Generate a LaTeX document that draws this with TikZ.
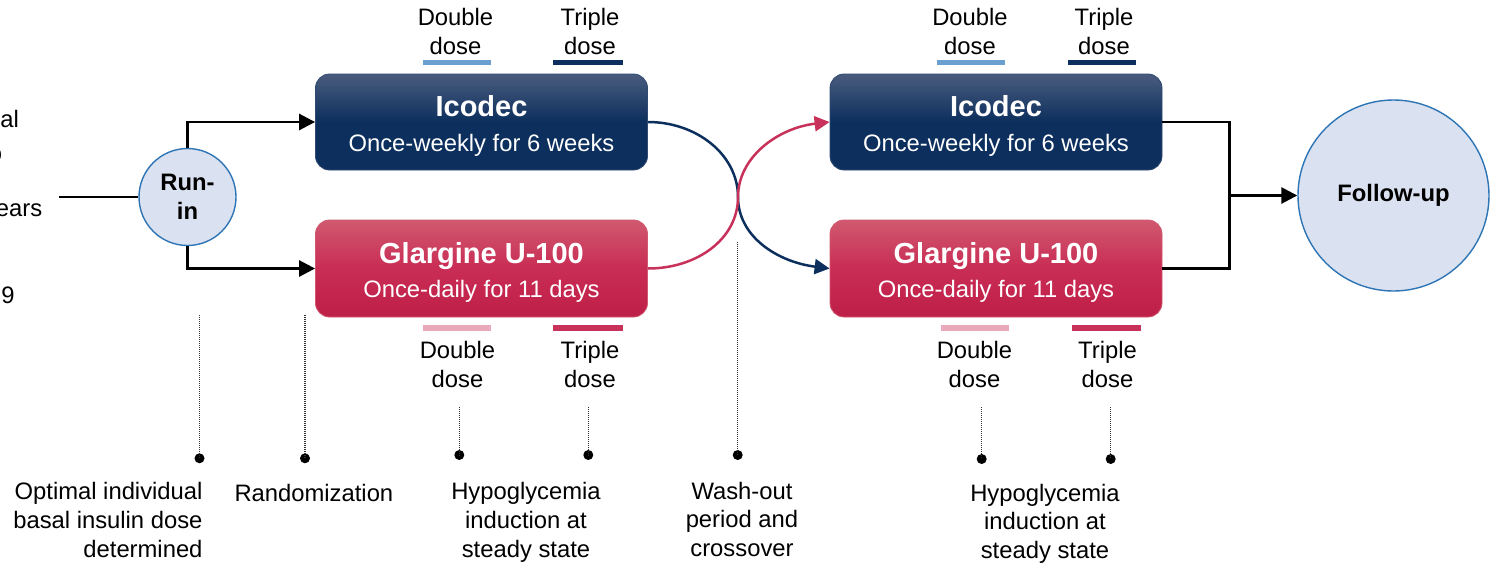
\documentclass[tikz,border=0pt]{standalone}
\usepackage{fontspec}
\setmainfont{Liberation Sans}
\usetikzlibrary{arrows.meta}
\definecolor{navy}{HTML}{0C2F5D}
\definecolor{navytop}{HTML}{4A5C7E}
\definecolor{crim}{HTML}{C8325A}
\definecolor{crimtop}{HTML}{D0596F}
\definecolor{crimmid}{HTML}{C92C54}
\definecolor{crimbot}{HTML}{BE1F48}
\definecolor{lblue}{HTML}{6A9FCF}
\definecolor{lpink}{HTML}{E8AABA}
\definecolor{circfill}{HTML}{DAE1F0}
\definecolor{circline}{HTML}{2E75B6}
\definecolor{dotcol}{HTML}{333333}
\begin{document}
\begin{tikzpicture}[x=0.5pt,y=-0.5pt,
  txt/.style={font=\fontsize{11.9}{14.3}\selectfont, inner sep=0pt, outer sep=0pt},
  ttl/.style={font=\fontsize{14.5}{17}\selectfont\bfseries, text=white, inner sep=0pt, anchor=base},
  sub/.style={txt, text=white, anchor=base},
  icobox/.style={rounded corners=7pt, minimum width=166pt, minimum height=48pt, inner sep=0pt,
    top color=navytop, bottom color=navy, middle color=navy, draw=navytop!60!navy, line width=0.4pt},
  glabox/.style={rounded corners=7pt, minimum width=166pt, minimum height=48.5pt, inner sep=0pt,
    top color=crimtop, bottom color=crimbot, middle color=crimmid, draw=crimtop, line width=0.4pt},
  roundnode/.style={circle, fill=circfill, draw=circline, line width=0.7pt, inner sep=0pt,
    font=\fontsize{11.9}{14.3}\selectfont\bfseries, align=center},
  conn/.style={line width=1.35pt, black},
  arr/.style={conn, -{Triangle[length=8pt,width=8pt]}},
  cross/.style={line width=1.25pt, -{Triangle[length=7.5pt,width=7.5pt]}},
  bar/.style={line width=2.6pt},
  dotline/.style={dotcol, line width=0.6pt, dash pattern=on 0.5pt off 0.5pt},
  dotend/.style={circle, fill=black, minimum size=5pt, inner sep=0pt},
  lbl/.style={txt, align=center, anchor=base},
]
\useasboundingbox (0,0) rectangle (1490,563);
\clip (0,0) rectangle (1490,563);

% left clipped text fragments
\node[txt, anchor=base east] (fa) at (18.8,127.3) {al};
\node[txt, anchor=base east] (fb) at (2,161) {o};
\node[txt, anchor=base east] (fc) at (42.2,216.7) {ears};
\node[txt, anchor=base east] (fd) at (14.5,303.3) {9};

% run-in
\node[roundnode, minimum size=48.5pt] (runin) at (187.5,197) {Run-\\in};
\coordinate (start) at (59,197);
\draw[conn] (start) -- (runin.west);

% boxes
\node[icobox] (ico1) at (481.5,122) {};
\node[glabox] (gla1) at (481.5,268.5) {};
\node[icobox] (ico2) at (996,122) {};
\node[glabox] (gla2) at (996,268.5) {};

\node[ttl] (ico1t) at (481.5,116.7) {Icodec};
\node[sub] (ico1s) at (481.5,151) {Once-weekly for 6 weeks};
\node[ttl] (gla1t) at (481.5,263.5) {Glargine U-100};
\node[sub] (gla1s) at (481.5,297.5) {Once-daily for 11 days};
\node[ttl] (ico2t) at (996,116.7) {Icodec};
\node[sub] (ico2s) at (996,151) {Once-weekly for 6 weeks};
\node[ttl] (gla2t) at (996,263.5) {Glargine U-100};
\node[sub] (gla2s) at (996,297.5) {Once-daily for 11 days};

% run-in arrows
\draw[arr] (runin.north) |- (ico1.west);
\draw[arr] (runin.south) |- (gla1.west);

% crossover
\coordinate (xc) at (738,197);
\draw[cross, navy] (ico1.east) .. controls (697,122) and (738,155) .. (xc)
  .. controls (738,237) and (778,262) .. (gla2.west);
\draw[cross, crim] (gla1.east) .. controls (697,268.5) and (738,239) .. (xc)
  .. controls (738,157) and (778,128) .. (ico2.west);

% follow-up
\node[roundnode, minimum size=95.5pt] (follow) at (1393.5,195.5) {Follow-up};
\coordinate (j) at (1229.5,195.5);
\draw[conn] (ico2.east) -| (j) |- (gla2.east);
\draw[arr] (j) -- (follow.west);

% dose labels and bars (base anchor = last line baseline)
\node[lbl] (d1) at (455.5,54) {Double\\dose};
\node[lbl] (t1) at (590,54) {Triple\\dose};
\draw[bar, lblue] (422.7,62.5) -- (491,62.5);
\draw[bar, navy] (553.3,62.5) -- (622.7,62.5);
\node[lbl] (d2) at (457.5,387) {Double\\dose};
\node[lbl] (t2) at (590,387) {Triple\\dose};
\draw[bar, lpink] (422.7,328) -- (491,328);
\draw[bar, crim] (553.3,328) -- (622.7,328);

\node[lbl] (d3) at (970,54) {Double\\dose};
\node[lbl] (t3) at (1104,54) {Triple\\dose};
\draw[bar, lblue] (936.7,62.5) -- (1005,62.5);
\draw[bar, navy] (1067.7,62.5) -- (1136,62.5);
\node[lbl] (d4) at (974.5,387) {Double\\dose};
\node[lbl] (t4) at (1107.5,387) {Triple\\dose};
\draw[bar, lpink] (940.7,328) -- (1009.3,328);
\draw[bar, crim] (1071.7,328) -- (1140.7,328);

% dotted markers
\node[dotend] (p1) at (199.5,458.3) {};
\node[dotend] (p2) at (305,458.3) {};
\node[dotend] (p3) at (459.3,455) {};
\node[dotend] (p4) at (588.3,455) {};
\node[dotend] (p5) at (737.7,455) {};
\node[dotend] (p6) at (981.7,459) {};
\node[dotend] (p7) at (1110.7,459) {};
\coordinate (q1) at (199.5,315);
\coordinate (q2) at (305,315);
\coordinate (q3) at (459.3,406.7);
\coordinate (q4) at (588.3,406.7);
\coordinate (q5) at (737.7,241.7);
\coordinate (q6) at (981.7,407);
\coordinate (q7) at (1110.7,407);
\foreach \i in {1,...,7} {\draw[dotline] (q\i) -- (p\i.center);}

% bottom labels (base anchor = last line baseline)
\node[txt, align=right, anchor=base east] (l1) at (202.5,557) {Optimal individual\\basal insulin dose\\determined};
\node[txt, anchor=base west] (l2) at (234.5,501) {Randomization};
\node[lbl] (l3) at (526,557) {Hypoglycemia\\induction at\\steady state};
\node[lbl] (l4) at (742,556.5) {Wash-out\\period and\\crossover};
\node[lbl] (l5) at (1045,558.5) {Hypoglycemia\\induction at\\steady state};
\end{tikzpicture}
\end{document}
